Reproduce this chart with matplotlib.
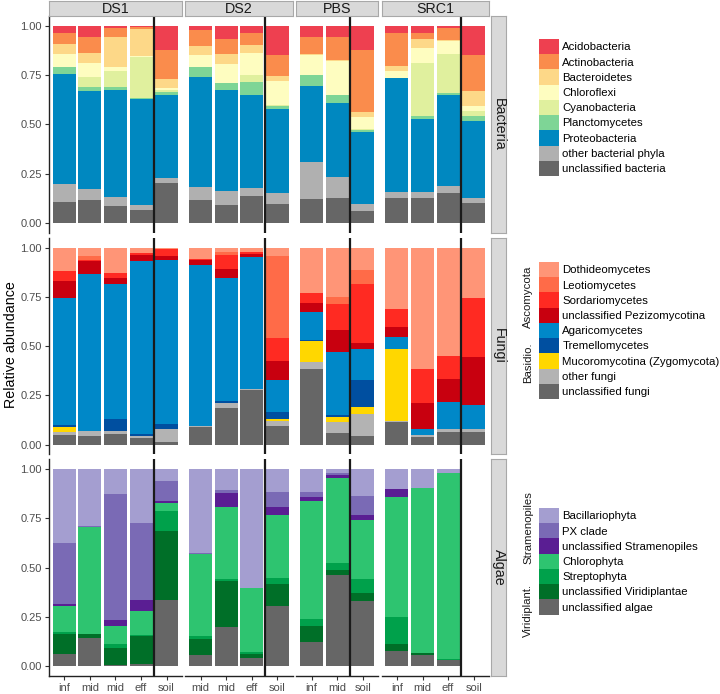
import matplotlib

matplotlib.use("Agg")
import matplotlib.pyplot as plt
import numpy as np
from matplotlib.patches import Patch

plt.rcParams["font.family"] = ["Liberation Sans", "DejaVu Sans"]

nan = np.nan

sites = ["DS1", "DS2", "PBS", "SRC1"]
site_samples = [
    ["inf", "mid", "mid", "eff", "soil"],
    ["mid", "mid", "eff", "soil"],
    ["inf", "mid", "soil"],
    ["inf", "mid", "eff", "soil"],
]
groups = ["Bacteria", "Fungi", "Algae"]

bacteria_taxa = ["Acidobacteria", "Actinobacteria", "Bacteroidetes", "Chloroflexi",
                 "Cyanobacteria", "Planctomycetes", "Proteobacteria",
                 "other bacterial phyla", "unclassified bacteria"]
fungi_taxa = ["Dothideomycetes", "Leotiomycetes", "Sordariomycetes",
              "unclassified Pezizomycotina", "Agaricomycetes", "Tremellomycetes",
              "Mucoromycotina (Zygomycota)", "other fungi", "unclassified fungi"]
algae_taxa = ["Bacillariophyta", "PX clade", "unclassified Stramenopiles",
              "Chlorophyta", "Streptophyta", "unclassified Viridiplantae",
              "unclassified algae"]

bacteria_colors = ["#EE4050", "#FA8C4C", "#FDD888", "#FEFDC0", "#E0F09E",
                   "#7ED596", "#0088C0", "#B0B0B0", "#666666"]
fungi_colors = ["#FF9577", "#FF6B48", "#FF2A22", "#C8000F", "#0088C8",
                "#004FA0", "#FFD700", "#B3B3B3", "#666666"]
algae_colors = ["#A49ED0", "#7A6AB5", "#5A1E93", "#2EC470", "#00A14B",
                "#006F28", "#666666"]

# one row per sample (bar), one column per taxon (legend order)
bacteria_DS1 = [
    [0.038, 0.054, 0.053, 0.063, 0.000, 0.034, 0.563, 0.087, 0.108],
    [0.055, 0.082, 0.050, 0.075, 0.050, 0.021, 0.495, 0.057, 0.115],
    [0.013, 0.042, 0.153, 0.020, 0.084, 0.016, 0.539, 0.050, 0.083],
    [0.005, 0.012, 0.138, 0.003, 0.209, 0.003, 0.538, 0.029, 0.063],
    [0.125, 0.147, 0.045, 0.008, 0.013, 0.012, 0.422, 0.025, 0.203],
]
bacteria_DS2 = [
    [0.020, 0.083, 0.047, 0.058, 0.000, 0.050, 0.562, 0.063, 0.117],
    [0.067, 0.075, 0.053, 0.093, 0.000, 0.037, 0.513, 0.070, 0.092],
    [0.037, 0.058, 0.042, 0.113, 0.033, 0.070, 0.472, 0.037, 0.138],
    [0.150, 0.105, 0.023, 0.122, 0.008, 0.012, 0.430, 0.055, 0.095],
]
bacteria_PBS = [
    [0.055, 0.087, 0.005, 0.103, 0.000, 0.055, 0.387, 0.188, 0.120],
    [0.055, 0.117, 0.006, 0.172, 0.000, 0.042, 0.375, 0.108, 0.125],
    [0.125, 0.312, 0.025, 0.063, 0.005, 0.007, 0.368, 0.033, 0.062],
]
bacteria_SRC1 = [
    [0.038, 0.167, 0.025, 0.033, 0.000, 0.003, 0.576, 0.030, 0.128],
    [0.038, 0.029, 0.046, 0.075, 0.270, 0.017, 0.367, 0.033, 0.125],
    [0.013, 0.059, 0.006, 0.067, 0.197, 0.008, 0.463, 0.034, 0.153],
    [0.147, 0.186, 0.075, 0.022, 0.028, 0.025, 0.389, 0.028, 0.100],
]

fungi_DS1 = [
    [0.117, 0.000, 0.055, 0.083, 0.647, 0.011, 0.022, 0.015, 0.050],
    [0.045, 0.020, 0.005, 0.063, 0.797, 0.000, 0.000, 0.028, 0.042],
    [0.130, 0.000, 0.025, 0.032, 0.685, 0.058, 0.000, 0.017, 0.053],
    [0.030, 0.000, 0.008, 0.032, 0.877, 0.008, 0.000, 0.012, 0.033],
    [0.008, 0.000, 0.037, 0.018, 0.834, 0.025, 0.000, 0.063, 0.015],
]
fungi_DS2 = [
    [0.058, 0.000, 0.005, 0.024, 0.818, 0.000, 0.000, 0.008, 0.087],
    [0.022, 0.016, 0.070, 0.045, 0.627, 0.007, 0.000, 0.026, 0.187],
    [0.025, 0.000, 0.008, 0.017, 0.667, 0.000, 0.000, 0.005, 0.278],
    [0.042, 0.416, 0.120, 0.094, 0.161, 0.037, 0.010, 0.025, 0.095],
]
fungi_PBS = [
    [0.233, 0.000, 0.047, 0.045, 0.142, 0.008, 0.108, 0.034, 0.383],
    [0.253, 0.035, 0.129, 0.113, 0.320, 0.008, 0.030, 0.054, 0.058],
    [0.113, 0.074, 0.296, 0.030, 0.159, 0.136, 0.039, 0.111, 0.042],
]
fungi_SRC1 = [
    [0.313, 0.000, 0.090, 0.050, 0.060, 0.000, 0.369, 0.005, 0.113],
    [0.617, 0.000, 0.170, 0.135, 0.030, 0.000, 0.000, 0.011, 0.037],
    [0.550, 0.000, 0.117, 0.116, 0.139, 0.000, 0.000, 0.013, 0.065],
    [0.258, 0.000, 0.300, 0.239, 0.125, 0.000, 0.000, 0.016, 0.062],
]

algae_DS1 = [
    [0.373, 0.311, 0.010, 0.133, 0.010, 0.099, 0.064],
    [0.289, 0.005, 0.000, 0.541, 0.000, 0.022, 0.143],
    [0.126, 0.639, 0.030, 0.091, 0.022, 0.087, 0.005],
    [0.272, 0.392, 0.054, 0.122, 0.009, 0.138, 0.013],
    [0.059, 0.101, 0.011, 0.039, 0.104, 0.350, 0.336],
]
algae_DS2 = [
    [0.424, 0.008, 0.000, 0.417, 0.013, 0.079, 0.059],
    [0.106, 0.015, 0.072, 0.362, 0.011, 0.236, 0.198],
    [0.602, 0.000, 0.000, 0.326, 0.010, 0.023, 0.039],
    [0.114, 0.076, 0.040, 0.320, 0.033, 0.114, 0.303],
]
algae_PBS = [
    [0.114, 0.026, 0.020, 0.601, 0.034, 0.082, 0.123],
    [0.020, 0.010, 0.012, 0.434, 0.037, 0.025, 0.462],
    [0.134, 0.098, 0.025, 0.301, 0.072, 0.039, 0.331],
]
algae_SRC1 = [
    [0.101, 0.000, 0.039, 0.611, 0.136, 0.037, 0.076],
    [0.097, 0.000, 0.000, 0.836, 0.000, 0.012, 0.055],
    [0.017, 0.000, 0.000, 0.946, 0.007, 0.000, 0.030],
    [nan, nan, nan, nan, nan, nan, nan],
]

panel_data = [
    [bacteria_DS1, bacteria_DS2, bacteria_PBS, bacteria_SRC1],
    [fungi_DS1, fungi_DS2, fungi_PBS, fungi_SRC1],
    [algae_DS1, algae_DS2, algae_PBS, algae_SRC1],
]
panel_colors = [bacteria_colors, fungi_colors, algae_colors]
panel_taxa = [bacteria_taxa, fungi_taxa, algae_taxa]

# layout in pixels
W, H = 720, 694
fig = plt.figure(figsize=(W / 100, H / 100), dpi=100)


def px_axes(x0, y0, x1, y1):
    return fig.add_axes([x0 / W, 1 - y1 / H, (x1 - x0) / W, (y1 - y0) / H])


left, right, gap = 49, 489, 3.5
col_units = [len(s) + 0.2 for s in site_samples]
unit = (right - left - gap * 3) / sum(col_units)
col_x = []
x = left
for cu in col_units:
    col_x.append((x, x + cu * unit))
    x += cu * unit + gap
row_y = [(16, 232.7), (237.7, 454.4), (459.4, 676)]

line_col = "#222222"
strip_fill, strip_edge = "#D9D9D9", "#A8A8A8"

for r in range(3):
    for c in range(4):
        x0, x1 = col_x[c]
        y0, y1 = row_y[r]
        ax = px_axes(x0, y0, x1, y1)
        vals = np.array(panel_data[r][c], dtype=float)
        n = len(vals)
        valid = ~np.isnan(vals).any(axis=1)
        xs = np.arange(n)[valid]
        v = vals[valid]
        v = v / v.sum(axis=1, keepdims=True)
        bottom = np.zeros(len(xs))
        for k in reversed(range(v.shape[1])):
            ax.bar(xs, v[:, k], bottom=bottom, width=0.9,
                   color=panel_colors[r][k], linewidth=0)
            bottom += v[:, k]
        ax.axvline(n - 1.5, color="#1A1A1A", lw=1.6)
        ax.set_xlim(-0.6, n - 0.4)
        ax.set_ylim(-0.05, 1.05)
        for s in ["top", "right"]:
            ax.spines[s].set_visible(False)
        ax.spines["left"].set_visible(c == 0)
        ax.spines["bottom"].set_visible(r == 2)
        for s in ["left", "bottom"]:
            ax.spines[s].set_color(line_col)
            ax.spines[s].set_linewidth(1.0)
        ax.tick_params(length=3, width=0.8, color="#333333", labelsize=8,
                       labelcolor="#4D4D4D", pad=2)
        if c == 0:
            ax.set_yticks([0, 0.25, 0.5, 0.75, 1.0])
            ax.set_yticklabels(["0.00", "0.25", "0.50", "0.75", "1.00"])
        else:
            ax.set_yticks([])
        if r == 2:
            ax.set_xticks(range(n))
            ax.set_xticklabels(site_samples[c])
        else:
            ax.set_xticks([])

# top strips
for c in range(4):
    x0, x1 = col_x[c]
    sax = px_axes(x0, 0.5, x1, 16)
    sax.set_facecolor(strip_fill)
    sax.set_xticks([])
    sax.set_yticks([])
    for sp in sax.spines.values():
        sp.set_color(strip_edge)
        sp.set_linewidth(0.8)
    sax.text(0.5, 0.45, sites[c], ha="center", va="center", fontsize=10.3,
             color="#1A1A1A", transform=sax.transAxes)

# right strips
for r in range(3):
    y0, y1 = row_y[r]
    sax = px_axes(491, y0, 506, y1)
    sax.set_facecolor(strip_fill)
    sax.set_xticks([])
    sax.set_yticks([])
    for sp in sax.spines.values():
        sp.set_color(strip_edge)
        sp.set_linewidth(0.8)
    sax.text(0.5, 0.5, groups[r], ha="center", va="center", fontsize=10.3,
             rotation=270, color="#1A1A1A", transform=sax.transAxes)

fig.text(11 / W, 1 - 345 / H, "Relative abundance", rotation=90,
         ha="center", va="center", fontsize=10.3)

# legends
legend_tops = [39, 262, 508]
for r in range(3):
    handles = [Patch(facecolor=col, edgecolor="none") for col in panel_colors[r]]
    fig.legend(handles, panel_taxa[r], loc="upper left",
               bbox_to_anchor=(539 / W, 1 - legend_tops[r] / H),
               frameon=False, fontsize=8.2, handlelength=1.76, handleheight=1.68,
               labelspacing=0, handletextpad=0.3, borderpad=0, borderaxespad=0)

group_labels = [("Ascomycota", 297), ("Basidio.", 363),
                ("Stramenopiles", 528), ("Viridiplant.", 610)]
for label, yc in group_labels:
    fig.text(528 / W, 1 - yc / H, label, rotation=90, ha="center",
             va="center", fontsize=8.2, color="#1A1A1A")

fig.savefig("out.png", dpi=100)
